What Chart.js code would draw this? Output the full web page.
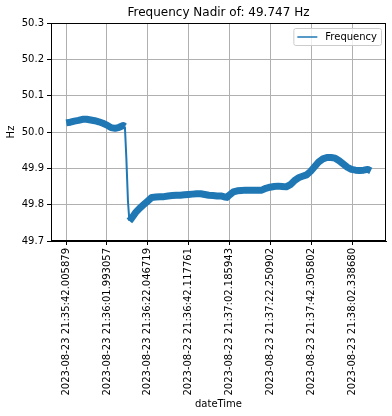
<!DOCTYPE html>
<html>
<head>
<meta charset="utf-8">
<script src="https://cdn.jsdelivr.net/npm/chart.js@4.4.0/dist/chart.umd.min.js"></script>
<style>
  html, body { margin: 0; padding: 0; background: #fff; }
  #wrap { width: 392px; height: 416px; }
</style>
</head>
<body>
<div id="wrap"><canvas id="chart" width="392" height="416"></canvas></div>
<script>
// Secondes écoulées depuis 21:35:42.005879
const seconds = [
  0, 2, 4, 6, 8, 10, 12, 14, 16, 18, 20, 22, 24, 26, 28, 28.8, 29.5, 30.3, 31,
  32, 34, 36, 38, 40, 42, 44, 46, 48, 50, 52, 54, 56, 58, 60, 62, 64, 66, 68,
  70, 72, 74, 76, 78, 79, 80, 82, 84, 86, 88, 90, 92, 94, 96, 98, 100, 102,
  104, 106, 108, 110, 112, 114, 116, 118, 120, 122, 124, 126, 128, 130, 132,
  134, 136, 138, 140, 142, 144, 146, 148, 149.5
];
const frequency = [
  50.025, 50.027, 50.030, 50.032, 50.035, 50.035, 50.033, 50.031, 50.028, 50.024,
  50.019, 50.012, 50.010, 50.013, 50.018, 50.015, 49.930, 49.810, 49.755,
  49.762, 49.778, 49.790, 49.800, 49.810, 49.820, 49.821, 49.822, 49.822, 49.824,
  49.825, 49.826, 49.826, 49.827, 49.828, 49.829, 49.830, 49.830, 49.828,
  49.826, 49.825, 49.824, 49.824, 49.821, 49.820, 49.826, 49.835, 49.838, 49.839,
  49.840, 49.840, 49.840, 49.840, 49.840, 49.845, 49.848, 49.850,
  49.851, 49.850, 49.849, 49.855, 49.866, 49.874, 49.878, 49.882, 49.892, 49.905,
  49.918, 49.926, 49.930, 49.930, 49.928,
  49.921, 49.912, 49.903, 49.897, 49.895, 49.894, 49.895, 49.897, 49.893
];

// Positions des graduations (s) et leurs libellés
const tickSeconds = [0, 19.987178, 40.04084, 60.111882, 80.180064, 100.245023, 120.299923, 140.332801];
const tickLabels = [
  "2023-08-23 21:35:42.005879",
  "2023-08-23 21:36:01.993057",
  "2023-08-23 21:36:22.046719",
  "2023-08-23 21:36:42.117761",
  "2023-08-23 21:37:02.185943",
  "2023-08-23 21:37:22.250902",
  "2023-08-23 21:37:42.305802",
  "2023-08-23 21:38:02.338680"
];
const yTicks = [49.7, 49.8, 49.9, 50.0, 50.1, 50.2, 50.3];

const TITLE = "Frequency Nadir of: 49.747 Hz";
const BLUE = "#1f77b4";
const FONT = "'DejaVu Sans', sans-serif";

const span = seconds[seconds.length - 1] - seconds[0];
const margin = span * 0.05;

// Titre centré sur la zone de tracé, cadre complet et légende façon matplotlib
const framePlugin = {
  id: "frame",
  afterDraw(chart) {
    const { ctx, chartArea: a } = chart;
    ctx.save();
    ctx.strokeStyle = "#000";
    ctx.lineWidth = 1;
    ctx.strokeRect(a.left + 0.5, a.top + 0.5, a.right - a.left - 1, a.bottom - a.top - 1);

    ctx.fillStyle = "#000";
    ctx.font = "12px " + FONT;
    ctx.textAlign = "center";
    ctx.textBaseline = "middle";
    ctx.fillText(TITLE, (a.left + a.right) / 2, 12.5);

    ctx.font = "10px " + FONT;
    const tw = ctx.measureText("Frequency").width;
    const w = 4 + 20 + 8 + tw + 4;
    const right = a.right - 5, top = a.top + 5, h = 17;
    const left = right - w;
    ctx.beginPath();
    ctx.roundRect(left + 0.5, top + 0.5, w, h, 2);
    ctx.fillStyle = "rgba(255,255,255,0.8)";
    ctx.fill();
    ctx.strokeStyle = "#cccccc";
    ctx.stroke();
    const cy = top + h / 2 + 0.5;
    ctx.beginPath();
    ctx.moveTo(left + 4, cy);
    ctx.lineTo(left + 24, cy);
    ctx.strokeStyle = BLUE;
    ctx.lineWidth = 1.5;
    ctx.stroke();
    ctx.fillStyle = "#000";
    ctx.textAlign = "left";
    ctx.fillText("Frequency", left + 32, cy);
    ctx.restore();
  }
};

new Chart(document.getElementById("chart"), {
  type: "line",
  data: {
    datasets: [{
      label: "Frequency",
      data: seconds.map((s, i) => ({ x: s, y: frequency[i] })),
      borderColor: BLUE,
      borderWidth: 7,
      borderJoinStyle: "round",
      pointRadius: 0,
      segment: {
        // la chute brutale est tracée fine, le reste garde l'épaisseur du bruit
        borderWidth: c => Math.abs(c.p1.parsed.y - c.p0.parsed.y) > 0.03 ? 2 : 7
      }
    }]
  },
  options: {
    responsive: false,
    animation: false,
    devicePixelRatio: 1,
    layout: { padding: { top: 23, right: 6, left: 0, bottom: 0 } },
    plugins: { legend: { display: false }, title: { display: false }, tooltip: { enabled: false } },
    scales: {
      x: {
        type: "linear",
        min: seconds[0] - margin,
        max: seconds[seconds.length - 1] + margin,
        afterFit(scale) { scale.height = 175; },
        afterBuildTicks(scale) { scale.ticks = tickSeconds.map(v => ({ value: v })); },
        grid: { color: "#b0b0b0", lineWidth: 1, tickColor: "#000", tickLength: 4 },
        border: { color: "#000" },
        ticks: {
          color: "#000",
          font: { family: FONT, size: 10 },
          maxRotation: 90,
          minRotation: 90,
          padding: 3,
          autoSkip: false,
          callback: (v, i) => tickLabels[i]
        },
        title: { display: true, text: "dateTime", color: "#000", font: { family: FONT, size: 10 }, padding: { top: 0, bottom: 6 } }
      },
      y: {
        min: 49.7,
        max: 50.3,
        afterFit(scale) { scale.width = 51; },
        afterBuildTicks(scale) { scale.ticks = yTicks.map(v => ({ value: v })); },
        grid: { color: "#b0b0b0", lineWidth: 1, tickColor: "#000", tickLength: 4 },
        border: { color: "#000" },
        ticks: {
          color: "#000",
          font: { family: FONT, size: 10 },
          padding: 3,
          callback: v => v.toFixed(1)
        },
        title: { display: true, text: "Hz", color: "#000", font: { family: FONT, size: 10 }, padding: { top: 5, bottom: 0 } }
      }
    }
  },
  plugins: [framePlugin]
});
</script>
</body>
</html>
